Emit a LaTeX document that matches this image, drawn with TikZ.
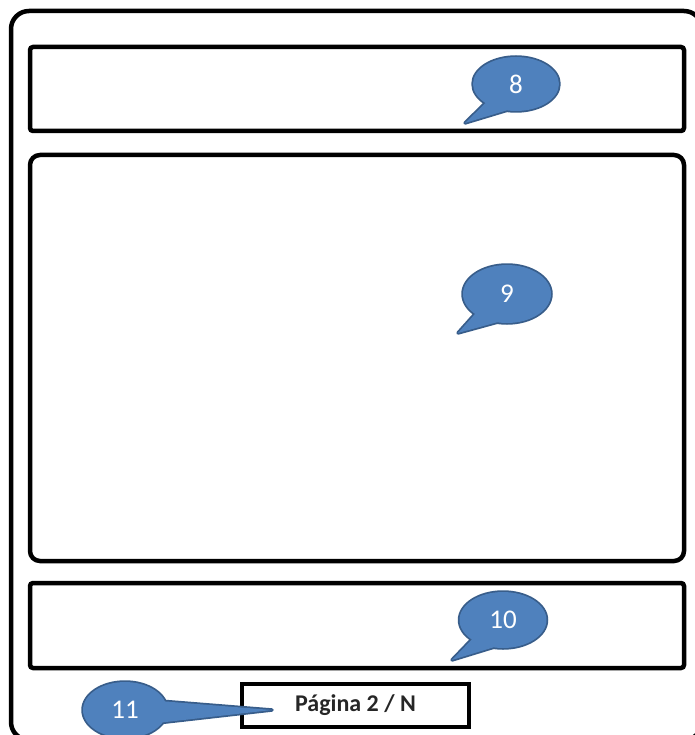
\documentclass[tikz,border=0pt]{standalone}
\usepackage{fontspec}
\setmainfont{Carlito}
\usetikzlibrary{shapes.geometric}
\definecolor{bubblefill}{HTML}{4F81BD}
\definecolor{bubbleedge}{HTML}{385D8A}
\pgfdeclarelayer{back}
\pgfdeclarelayer{mid}
\pgfsetlayers{back,mid,main}

% speech-bubble tail: #1 bubble node, #2 tip coordinate, #3/#4 attachment angles
\newcommand\bubbletail[4]{%
  \begin{pgfonlayer}{mid}
    \draw[bubbleline] (#1.#3) -- (#2) -- (#1.#4) -- (#1.center) -- cycle;
    \fill[bubblefill] (#1.#3) -- (#2) -- (#1.#4) -- (#1.center) -- cycle;
  \end{pgfonlayer}}

\begin{document}
\begin{tikzpicture}[x=1pt,y=-1pt,
  panel/.style={draw=black, line width=4.5pt, inner sep=0pt},
  bubble/.style={ellipse, fill=bubblefill, text=white, inner sep=0pt,
    font=\fontsize{27}{30}\selectfont},
  bubbleline/.style={draw=bubbleedge, line width=3.5pt, line join=round}]
\useasboundingbox (0,0) rectangle (694,735);

\begin{pgfonlayer}{back}
  % page outline
  \draw[black, line width=4.5pt, rounded corners=18pt] (11,11) rectangle (702,740);
  % header, content and footer panels
  \node[panel, rounded corners=3pt, minimum width=654pt, minimum height=84pt]
    (header) at (357,89) {};
  \node[panel, rounded corners=10pt, minimum width=654pt, minimum height=406pt]
    (content) at (357,358) {};
  \node[panel, rounded corners=3pt, minimum width=654pt, minimum height=85pt]
    (footer) at (357,625.5) {};
  % page counter
  \node[panel, line width=4pt, minimum width=227pt, minimum height=43pt,
    font=\fontsize{24}{30}\selectfont\bfseries, text=black!85] (pager) at (355.5,705.5)
    {Página 2 / N};
\end{pgfonlayer}

% numbered speech bubbles
\node[bubble, minimum width=86pt, minimum height=54pt] (b8) at (516,84) {8};
\node[bubble, minimum width=88pt, minimum height=58pt] (b9) at (507,294) {9};
\node[bubble, minimum width=87pt, minimum height=56pt] (b10) at (503,620) {10};
\node[bubble, minimum width=84pt, minimum height=56pt] (b11) at (125,710) {11};

\coordinate (t8) at (465,123);
\coordinate (t9) at (458,333);
\coordinate (t10) at (452,660);
\coordinate (t11) at (272,710);

\begin{pgfonlayer}{mid}
  \draw[bubbleline] (b8.center) ellipse [x radius=43pt, y radius=27pt];
  \draw[bubbleline] (b9.center) ellipse [x radius=44pt, y radius=29pt];
  \draw[bubbleline] (b10.center) ellipse [x radius=43.5pt, y radius=28pt];
  \draw[bubbleline] (b11.center) ellipse [x radius=42pt, y radius=28pt];
\end{pgfonlayer}

\bubbletail{b8}{t8}{212}{250}
\bubbletail{b9}{t9}{212}{250}
\bubbletail{b10}{t10}{212}{250}
\bubbletail{b11}{t11}{12}{-18}
\end{tikzpicture}
\end{document}
